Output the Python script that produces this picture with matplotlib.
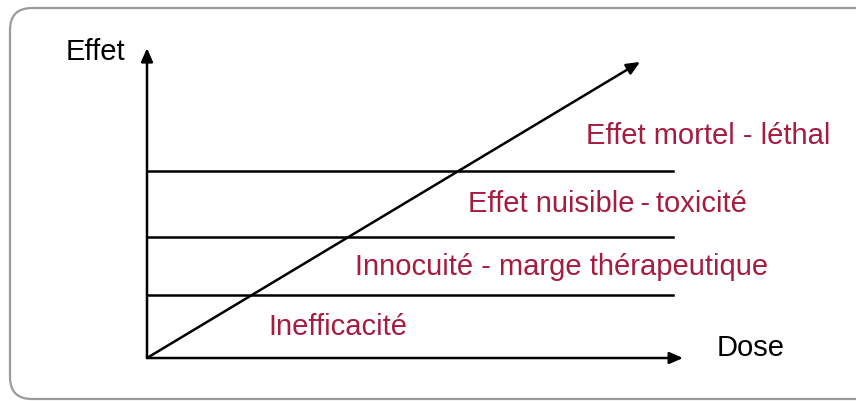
import matplotlib.pyplot as plt
from matplotlib.patches import FancyBboxPatch

# zones (effect thresholds) and labels
thresholds = [20.1, 38.7, 59.7]
line_end = 98.1
zone_labels = ["Inefficacité", "Innocuité - marge thérapeutique",
               "Effet nuisible\u2009-\u2009toxicité", "Effet mortel - léthal"]
label_x = [22.6, 38.8, 59.9, 81.9]
label_y = [7.3, 26.5, 46.6, 68.4]
# dose-effect line
dose = [0, 92]
effect = [0, 94.6]

red = '#A51C3F'
plt.rcParams['font.family'] = ['Liberation Sans', 'DejaVu Sans']

fig = plt.figure(figsize=(8.56, 4.01), dpi=100)

# rounded frame, in pixel units
bg = fig.add_axes([0, 0, 1, 1])
bg.set_xlim(0, 856)
bg.set_ylim(401, 0)
bg.axis('off')
bg.add_patch(FancyBboxPatch((10, 8), 880, 391, boxstyle='round,pad=0,rounding_size=22',
                            fc='white', ec='#9a9a9a', lw=1.6))

W, H = 856, 401
ax = fig.add_axes([147 / W, (H - 358) / H, 536 / W, 313 / H])
ax.set_xlim(0, 100)
ax.set_ylim(0, 100)
ax.axis('off')
ax.patch.set_alpha(0)

arrow = dict(arrowstyle='-|>,head_length=0.8,head_width=0.35', color='black', lw=1.8,
             shrinkA=0, shrinkB=0)
ax.annotate('', xy=(0, 99), xytext=(0, 0), arrowprops=arrow, annotation_clip=False)
ax.annotate('', xy=(100, 0), xytext=(0, 0), arrowprops=arrow, annotation_clip=False)
ax.annotate('', xy=(dose[1], effect[1]), xytext=(dose[0], effect[0]), arrowprops=arrow,
            annotation_clip=False)

for t in thresholds:
    ax.plot([0, line_end], [t, t], color='black', lw=1.8, clip_on=False)

for s, x, y in zip(zone_labels, label_x, label_y):
    ax.text(x, y, s, color=red, fontsize=21, va='baseline', ha='left')

ax.text(-15.1, 95.2, 'Effet', fontsize=21, va='baseline', ha='left')
ax.text(106.2, 0.6, 'Dose', fontsize=21, va='baseline', ha='left')

fig.savefig('out.png', dpi=100)
